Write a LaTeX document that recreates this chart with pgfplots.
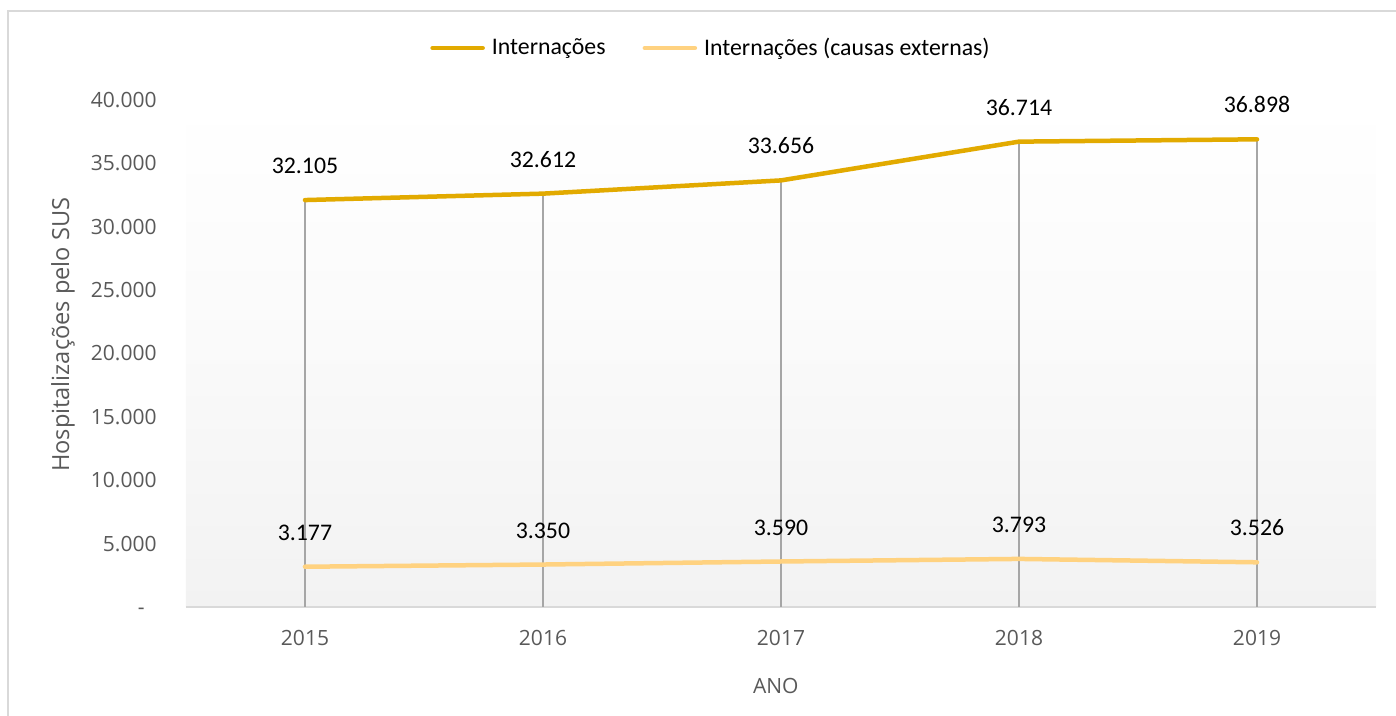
\documentclass[border=0pt]{standalone}
\usepackage{fontspec}
\setmainfont{Carlito}
\newfontfamily\osans{Open Sans}
\usepackage{pgfplots}
\pgfplotsset{compat=1.18}
\usepackage{pgfplotstable}
\definecolor{gold}{RGB}{226,170,0}
\definecolor{lgold}{RGB}{255,210,128}
\definecolor{dropc}{RGB}{166,166,166}
\definecolor{axc}{RGB}{217,217,217}
\definecolor{tickc}{RGB}{89,89,89}
\definecolor{bgc}{RGB}{242,242,242}

\pgfplotstableread{
x y lab
0 32105 32.105
1 32612 32.612
2 33656 33.656
3 36714 36.714
4 36898 36.898
}\tot
\pgfplotstableread{
x y lab
0 3177 3.177
1 3350 3.350
2 3590 3.590
3 3793 3.793
4 3526 3.526
}\ext

\begin{document}
\begin{tikzpicture}
\path[use as bounding box] (-93pt,-54.5pt) rectangle (605pt,303.5pt);
\begin{axis}[
  scale only axis, width=595pt, height=253.5pt,
  xmin=-0.5, xmax=4.5, ymin=0, ymax=40000,
  scaled y ticks=false,
  xtick={0,1,2,3,4}, xticklabels={2015,2016,2017,2018,2019},
  ytick={0,5000,10000,15000,20000,25000,30000,35000,40000},
  yticklabels={-\phantom{0},5.000,10.000,15.000,20.000,25.000,30.000,35.000,40.000},
  separate axis lines,
  axis x line*=bottom, axis y line*=left,
  x axis line style={draw=axc, line width=1pt, -},
  y axis line style={draw=none},
  major tick length=0pt,
  tick label style={font=\osans\fontsize{10.5}{12}\selectfont, text=tickc, inner sep=0pt},
  xticklabel style={anchor=center, yshift=-15.5pt},
  yticklabel style={anchor=east, xshift=-14.5pt},
  axis background/.style={shade, top color=white, bottom color=bgc, middle color=white!60!bgc},
  xlabel={ANO}, ylabel={Hospitalizações pelo SUS},
  every axis x label/.style={at={(rel axis cs:0.4956,0)}, yshift=-39.5pt, anchor=center, font=\osans\fontsize{10.5}{12}\selectfont, text=tickc},
  every axis y label/.style={at={(rel axis cs:0,0.537)}, xshift=-61.5pt, rotate=90, anchor=center, font=\osans\fontsize{11.8}{13}\selectfont, text=tickc},
  legend style={at={(0.4416,1)}, anchor=center, yshift=26pt, draw=none, fill=none,
    font=\fontsize{11.9}{13}\selectfont, legend columns=2, inner sep=0pt,
    nodes={inner xsep=1.5pt},
    /tikz/every odd column/.append style={column sep=2pt},
    /tikz/every even column/.append style={column sep=17pt}},
  legend image code/.code={\draw[#1, line width=2.3pt, line cap=round] (0,0) -- (25pt,0);},
  clip=false,
]
\addplot[ycomb, draw=dropc, line width=0.9pt, mark=none, forget plot] table[x=x,y=y] {\tot};
\addplot[gold, line width=2.25pt, line cap=round, mark=none,
  nodes near coords={\pgfplotspointmeta}, point meta=explicit symbolic,
  every node near coord/.append style={font=\fontsize{11.9}{13}\selectfont, text=black, anchor=south, inner sep=0pt, yshift=12pt}]
  table[x=x,y=y,meta=lab] {\tot};
\addlegendentry{Internações}
\addplot[lgold, line width=2.25pt, line cap=round, mark=none,
  nodes near coords={\pgfplotspointmeta}, point meta=explicit symbolic,
  every node near coord/.append style={font=\fontsize{11.9}{13}\selectfont, text=black, anchor=south, inner sep=0pt, yshift=12pt}]
  table[x=x,y=y,meta=lab] {\ext};
\addlegendentry{Internações (causas externas)}
\end{axis}
\draw[axc, line width=1pt] (-89pt,-60pt) -- (-89pt,298pt) -- (610pt,298pt);
\end{tikzpicture}
\end{document}
